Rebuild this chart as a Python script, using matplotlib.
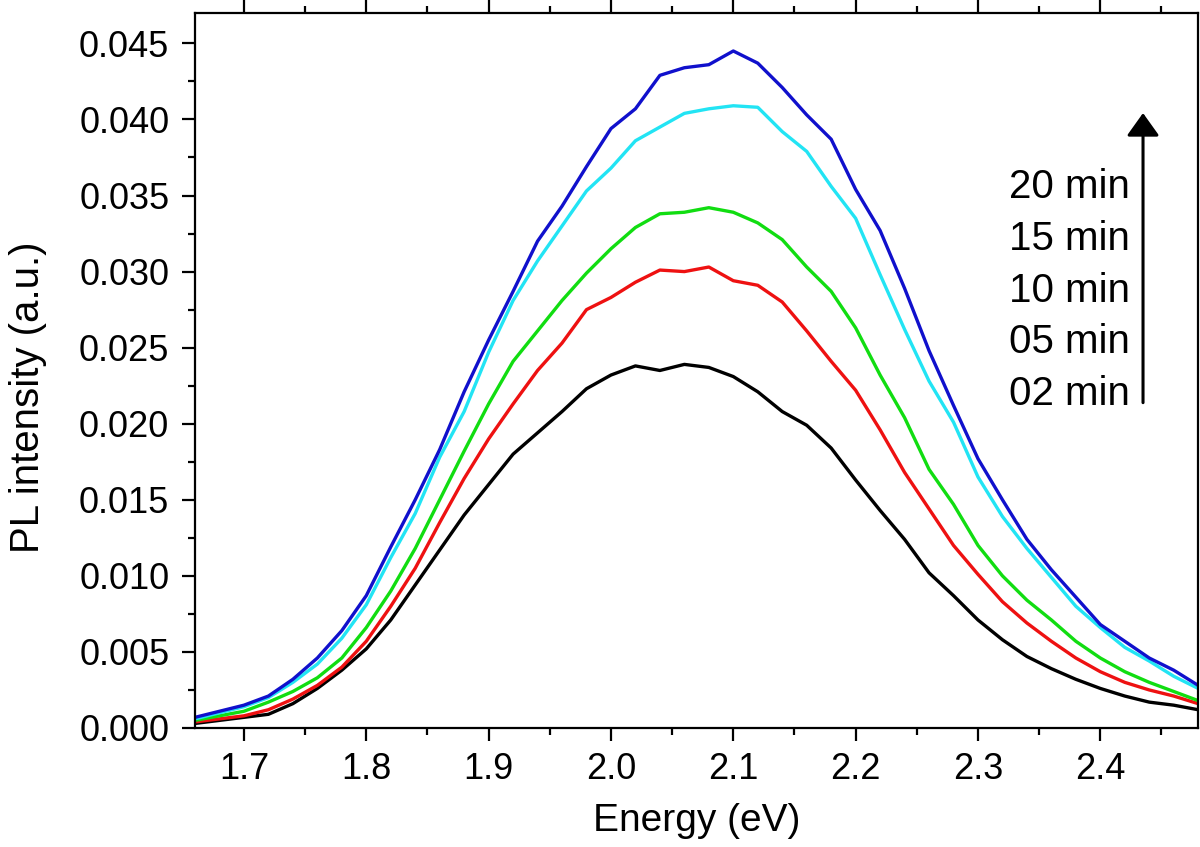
import matplotlib
matplotlib.use("Agg")
import matplotlib.pyplot as plt
import numpy as np
from matplotlib.ticker import MultipleLocator, FormatStrFormatter

plt.rcParams['font.family'] = ['Liberation Sans', 'DejaVu Sans']

# Read values off the picture -------------------------------------------------

energy = [1.66, 1.68, 1.70, 1.72, 1.74, 1.76, 1.78, 1.80, 1.82, 1.84,
          1.86, 1.88, 1.90, 1.92, 1.94, 1.96, 1.98, 2.00, 2.02, 2.04,
          2.06, 2.08, 2.10, 2.12, 2.14, 2.16, 2.18, 2.20, 2.22, 2.24,
          2.26, 2.28, 2.30, 2.32, 2.34, 2.36, 2.38, 2.40, 2.42, 2.44,
          2.46, 2.48]

pl_02min = [0.0003, 0.0005, 0.0007, 0.0009, 0.0016, 0.0026, 0.0038, 0.0052, 0.0071, 0.0094,
            0.0117, 0.0140, 0.0160, 0.0180, 0.0194, 0.0208, 0.0223, 0.0232, 0.0238, 0.0235,
            0.0239, 0.0237, 0.0231, 0.0221, 0.0208, 0.0199, 0.0184, 0.0163, 0.0143, 0.0124,
            0.0102, 0.0087, 0.0071, 0.0058, 0.0047, 0.0039, 0.0032, 0.0026, 0.0021, 0.0017,
            0.0015, 0.0012]

pl_05min = [0.0004, 0.0006, 0.0008, 0.0012, 0.0019, 0.0028, 0.0040, 0.0057, 0.0080, 0.0105,
            0.0135, 0.0164, 0.0190, 0.0213, 0.0235, 0.0253, 0.0275, 0.0283, 0.0293, 0.0301,
            0.0300, 0.0303, 0.0294, 0.0291, 0.0280, 0.0261, 0.0241, 0.0222, 0.0196, 0.0168,
            0.0144, 0.0120, 0.0101, 0.0083, 0.0069, 0.0057, 0.0046, 0.0037, 0.0030, 0.0025,
            0.0021, 0.0016]

pl_10min = [0.0005, 0.0008, 0.0011, 0.0017, 0.0024, 0.0033, 0.0046, 0.0066, 0.0090, 0.0118,
            0.0150, 0.0182, 0.0213, 0.0241, 0.0261, 0.0281, 0.0299, 0.0315, 0.0329, 0.0338,
            0.0339, 0.0342, 0.0339, 0.0332, 0.0321, 0.0303, 0.0287, 0.0263, 0.0232, 0.0204,
            0.0170, 0.0147, 0.0120, 0.0100, 0.0084, 0.0071, 0.0057, 0.0046, 0.0037, 0.0030,
            0.0024, 0.0018]

pl_15min = [0.0006, 0.0010, 0.0014, 0.0020, 0.0030, 0.0042, 0.0059, 0.0081, 0.0112, 0.0141,
            0.0178, 0.0208, 0.0247, 0.0281, 0.0307, 0.0330, 0.0353, 0.0368, 0.0386, 0.0395,
            0.0404, 0.0407, 0.0409, 0.0408, 0.0392, 0.0379, 0.0356, 0.0335, 0.0298, 0.0262,
            0.0228, 0.0201, 0.0165, 0.0139, 0.0118, 0.0099, 0.0080, 0.0066, 0.0053, 0.0044,
            0.0034, 0.0026]

pl_20min = [0.0007, 0.0011, 0.0015, 0.0021, 0.0032, 0.0046, 0.0064, 0.0087, 0.0119, 0.0150,
            0.0183, 0.0221, 0.0255, 0.0287, 0.0320, 0.0343, 0.0369, 0.0394, 0.0407, 0.0429,
            0.0434, 0.0436, 0.0445, 0.0437, 0.0421, 0.0403, 0.0387, 0.0354, 0.0327, 0.0289,
            0.0248, 0.0212, 0.0177, 0.0150, 0.0124, 0.0104, 0.0086, 0.0068, 0.0057, 0.0046,
            0.0038, 0.0028]

series = [pl_02min, pl_05min, pl_10min, pl_15min, pl_20min]
labels = ["02 min", "05 min", "10 min", "15 min", "20 min"]
colors = ["#000000", "#ee1111", "#11dd11", "#22e4f4", "#1010cc"]

# Plot ------------------------------------------------------------------------

fig = plt.figure(figsize=(12, 8.47), dpi=100)
ax = fig.add_axes([0.1625, 0.1405, 0.836, 0.8442])

for vals, col in zip(series, colors):
    ax.plot(energy, vals, color=col, lw=2.4)

ax.set_xlim(1.66, 2.48)
ax.set_ylim(0, 0.047)

ax.xaxis.set_major_locator(MultipleLocator(0.1))
ax.xaxis.set_minor_locator(MultipleLocator(0.05))
ax.yaxis.set_major_locator(MultipleLocator(0.005))
ax.yaxis.set_minor_locator(MultipleLocator(0.0025))
ax.xaxis.set_major_formatter(FormatStrFormatter('%.1f'))
ax.yaxis.set_major_formatter(FormatStrFormatter('%.3f'))

ax.tick_params(which='both', direction='out', top=True, right=False,
               labeltop=False, width=1.6, labelsize=26)
ax.tick_params(which='major', length=9.5)
ax.tick_params(which='minor', length=5)
ax.tick_params(axis='y', pad=9)
ax.tick_params(axis='x', pad=8)

for sp in ax.spines.values():
    sp.set_linewidth(1.6)

ax.set_xlabel("Energy (eV)", fontsize=28)
ax.set_ylabel("PL intensity (a.u.)", fontsize=29)
ax.xaxis.set_label_coords(0.5, -0.105)
ax.yaxis.set_label_coords(-0.1665, 0.463)
ax.xaxis.label.set_verticalalignment('top')
ax.yaxis.label.set_verticalalignment('center')

# Time labels and arrow -------------------------------------------------------

label_y = [0.452, 0.524, 0.596, 0.669, 0.741]
for lab, yy in zip(labels, label_y):
    ax.text(0.932, yy, lab, transform=ax.transAxes, ha='right', va='baseline',
            fontsize=29)

ax.annotate('', xy=(0.945, 0.860), xytext=(0.945, 0.455),
            xycoords='axes fraction', textcoords='axes fraction',
            arrowprops=dict(arrowstyle='-|>,head_length=14,head_width=10',
                            mutation_scale=1, lw=2.2, color='black',
                            shrinkA=0, shrinkB=0))

fig.savefig("out.png", dpi=100)
